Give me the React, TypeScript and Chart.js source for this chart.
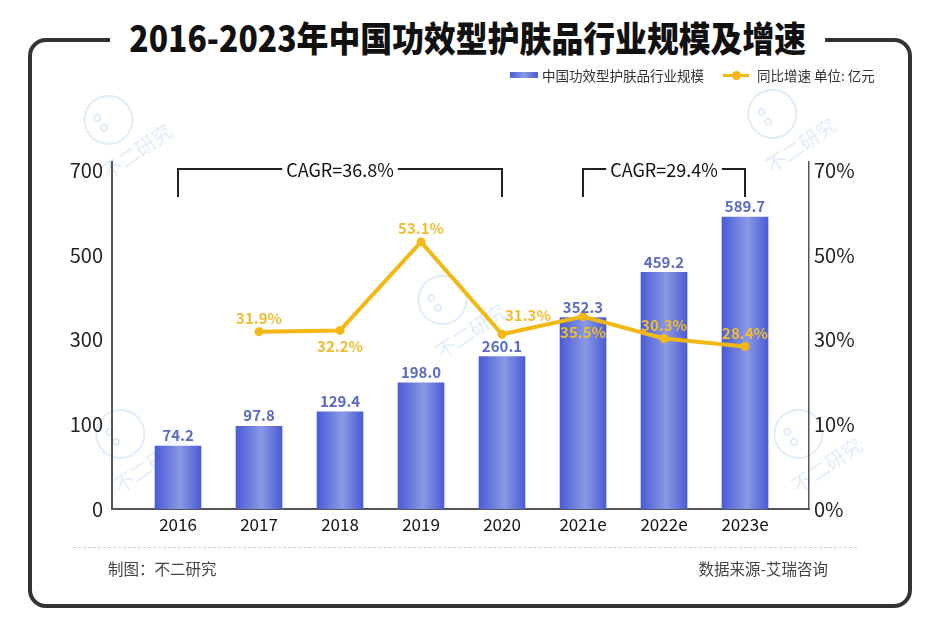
import React, { useEffect, useRef } from 'react';
import { Chart, registerables, LinearScale } from 'chart.js';

const categories = ['2016', '2017', '2018', '2019', '2020', '2021e', '2022e', '2023e'];
const marketSize = [74.2, 97.8, 129.4, 198.0, 260.1, 352.3, 459.2, 589.7];
const growthRate: (number | null)[] = [null, 31.9, 32.2, 53.1, 31.3, 35.5, 30.3, 28.4];
const growthLabelSide = ['top', 'top', 'bottom', 'top', 'topRight', 'bottom', 'top', 'top'];
const leftTicks = [0, 100, 300, 500, 700];
const rightTicks = [0, 10, 30, 50, 70];
const cagrSpans = [
  { from: 0, to: 4, label: 'CAGR=36.8%' },
  { from: 5, to: 7, label: 'CAGR=29.4%' },
];
const watermarkSpots = [
  [128, 138],
  [792, 132],
  [140, 452],
  [462, 318],
  [818, 452],
];

const FONT = "'Noto Sans CJK SC', 'Noto Sans', sans-serif";
const BREAKS: Record<string, number[]> = { y: leftTicks, y1: rightTicks };

class PiecewiseScale extends LinearScale {
  static id = 'piecewise';
  static defaults = { ...(LinearScale as any).defaults };
  bp(): number[] {
    return BREAKS[(this as any).id] || [0, 1];
  }
  toUnit(v: number) {
    const bp = this.bp();
    const n = bp.length;
    if (v <= bp[0]) return (v - bp[0]) / (bp[1] - bp[0]);
    for (let i = 1; i < n; i++) {
      if (v <= bp[i]) return i - 1 + (v - bp[i - 1]) / (bp[i] - bp[i - 1]);
    }
    return n - 1 + (v - bp[n - 1]) / (bp[n - 1] - bp[n - 2]);
  }
  fromUnit(u: number) {
    const bp = this.bp();
    const n = bp.length;
    if (u <= 0) return bp[0] + u * (bp[1] - bp[0]);
    if (u >= n - 1) return bp[n - 1] + (u - (n - 1)) * (bp[n - 1] - bp[n - 2]);
    const i = Math.floor(u);
    return bp[i] + (u - i) * (bp[i + 1] - bp[i]);
  }
  buildTicks() {
    return this.bp().map((v) => ({ value: v }));
  }
  getPixelForValue(value: number) {
    if (value === null || value === undefined || isNaN(value)) return NaN;
    const s = this as any;
    const u0 = this.toUnit(s.min);
    const u1 = this.toUnit(s.max);
    return s.getPixelForDecimal((this.toUnit(value) - u0) / (u1 - u0));
  }
  getValueForPixel(pixel: number) {
    const s = this as any;
    const u0 = this.toUnit(s.min);
    const u1 = this.toUnit(s.max);
    return this.fromUnit(u0 + s.getDecimalForPixel(pixel) * (u1 - u0));
  }
}

Chart.register(...registerables);
Chart.register(PiecewiseScale as any);

const watermarkPlugin = {
  id: 'watermark',
  beforeDraw(chart: any) {
    const c = chart.ctx;
    c.save();
    watermarkSpots.forEach(([x, y]) => {
      c.save();
      c.translate(x, y);
      c.rotate(-0.6);
      c.strokeStyle = 'rgba(130,185,230,0.26)';
      c.lineWidth = 2;
      c.beginPath();
      c.arc(-6, -26, 24, 0, Math.PI * 2);
      c.stroke();
      c.beginPath();
      c.arc(-14, -34, 3, 0, Math.PI * 2);
      c.stroke();
      c.beginPath();
      c.arc(-14, -22, 3, 0, Math.PI * 2);
      c.stroke();
      c.fillStyle = 'rgba(130,185,230,0.26)';
      c.font = `20px ${FONT}`;
      c.textAlign = 'center';
      c.textBaseline = 'middle';
      c.fillText('不二研究', 0, 16);
      c.restore();
    });
    c.restore();
  },
};

const labelsPlugin = {
  id: 'valueLabels',
  afterDatasetsDraw(chart: any) {
    const c = chart.ctx;
    c.save();
    c.textAlign = 'center';
    const barMeta = chart.getDatasetMeta(0);
    c.font = `bold 15px ${FONT}`;
    c.fillStyle = '#5a6bc2';
    c.textBaseline = 'bottom';
    barMeta.data.forEach((el: any, i: number) => {
      c.fillText(marketSize[i].toFixed(1), el.x, el.y - 3);
    });
    const lineMeta = chart.getDatasetMeta(1);
    c.fillStyle = '#f0bd2e';
    lineMeta.data.forEach((el: any, i: number) => {
      const v = growthRate[i];
      if (v === null || el.skip) return;
      const txt = v.toFixed(1) + '%';
      const side = growthLabelSide[i];
      if (side === 'top') {
        c.textAlign = 'center';
        c.textBaseline = 'bottom';
        c.fillText(txt, el.x, el.y - 6);
      } else if (side === 'topRight') {
        c.textAlign = 'left';
        c.textBaseline = 'bottom';
        c.fillText(txt, el.x + 3, el.y - 11);
      } else {
        c.textAlign = 'center';
        c.textBaseline = 'top';
        c.fillText(txt, el.x, el.y + 8);
      }
    });
    c.restore();
  },
};

const cagrPlugin = {
  id: 'cagr',
  afterDraw(chart: any) {
    const c = chart.ctx;
    const xs = chart.scales.x;
    const top = chart.chartArea.top;
    const yH = top + 7;
    const yV = top + 35;
    c.save();
    c.strokeStyle = '#222';
    c.lineWidth = 2;
    c.font = `18px ${FONT}`;
    c.fillStyle = '#111';
    c.textAlign = 'center';
    c.textBaseline = 'middle';
    cagrSpans.forEach((s) => {
      const x0 = xs.getPixelForValue(s.from);
      const x1 = xs.getPixelForValue(s.to);
      const mid = (x0 + x1) / 2;
      const w = c.measureText(s.label).width;
      c.beginPath();
      c.moveTo(x0, yV);
      c.lineTo(x0, yH);
      c.lineTo(mid - w / 2 - 4, yH);
      c.moveTo(mid + w / 2 + 4, yH);
      c.lineTo(x1, yH);
      c.lineTo(x1, yV);
      c.stroke();
      c.fillText(s.label, mid, yH + 1);
    });
    c.restore();
  },
};

export default function App() {
  const ref = useRef<HTMLCanvasElement>(null);

  useEffect(() => {
    if (!ref.current) return;
    Chart.defaults.font.family = FONT;
    const barColor = (ctx: any) => {
      const chart = ctx.chart;
      const xs = chart.scales && chart.scales.x;
      if (!xs || ctx.dataIndex === undefined || !isFinite(xs.getPixelForValue(ctx.dataIndex))) return '#5a6cd8';
      const cx = xs.getPixelForValue(ctx.dataIndex);
      const g = chart.ctx.createLinearGradient(cx - 23, 0, cx + 23, 0);
      g.addColorStop(0, '#4a5cd6');
      g.addColorStop(0.55, '#8a98e4');
      g.addColorStop(1, '#4a5cd6');
      return g;
    };
    const chart = new Chart(ref.current, {
      type: 'bar',
      data: {
        datasets: [
          {
            type: 'bar',
            label: '中国功效型护肤品行业规模',
            data: marketSize.map((v, i) => ({ x: i, y: v })),
            backgroundColor: barColor,
            barThickness: 46,
            yAxisID: 'y',
            order: 2,
          },
          {
            type: 'line',
            label: '同比增速',
            data: growthRate.map((v, i) => ({ x: i, y: v })),
            borderColor: '#f3b814',
            backgroundColor: '#f3b814',
            borderWidth: 4,
            pointRadius: 4.5,
            pointBackgroundColor: '#f3b814',
            pointBorderWidth: 0,
            tension: 0,
            yAxisID: 'y1',
            order: 1,
          },
        ] as any,
      },
      options: {
        responsive: false,
        animation: false,
        layout: { padding: { left: 50, right: 71, top: 162, bottom: 105 } },
        plugins: { legend: { display: false }, tooltip: { enabled: false } },
        scales: {
          x: {
            type: 'linear',
            offset: false,
            min: -0.815,
            max: 7.79,
            grid: { display: false, drawTicks: false, offset: false },
            border: { display: true, color: '#555', width: 2 },
            afterBuildTicks: (scale: any) => {
              scale.ticks = categories.map((_, i) => ({ value: i }));
            },
            afterFit: (scale: any) => {
              scale.height = 30;
            },
            ticks: {
              autoSkip: false,
              maxRotation: 0,
              padding: 5,
              color: '#111',
              font: { size: 17 },
              callback: (v: any) => categories[Math.round(Number(v))] ?? '',
            },
          },
          y: {
            type: 'piecewise' as any,
            position: 'left',
            min: 0,
            max: 720,
            grid: { display: false, drawTicks: false },
            border: { display: true, color: '#555', width: 2 },
            afterFit: (scale: any) => {
              scale.width = 62;
            },
            ticks: {
              padding: 9,
              color: '#222',
              font: { size: 20 },
              callback: (v: any) => String(v),
            },
          },
          y1: {
            type: 'piecewise' as any,
            position: 'right',
            min: 0,
            max: 72,
            grid: { display: false, drawTicks: false },
            border: { display: true, color: '#555', width: 1.5 },
            afterFit: (scale: any) => {
              scale.width = 60;
            },
            ticks: {
              padding: 5,
              color: '#222',
              font: { size: 20 },
              callback: (v: any) => v + '%',
            },
          },
        } as any,
      },
      plugins: [watermarkPlugin, labelsPlugin, cagrPlugin],
    });
    return () => chart.destroy();
  }, []);

  const text = { position: 'absolute' as const, fontFamily: FONT, whiteSpace: 'nowrap' as const };

  return (
    <div style={{ position: 'fixed', left: 0, top: 0, width: 940, height: 644, background: '#fff', overflow: 'hidden' }}>
      <div
        style={{
          position: 'absolute',
          left: 28,
          top: 38,
          width: 884,
          height: 570,
          boxSizing: 'border-box',
          border: '4px solid #333',
          borderRadius: 18,
        }}
      />
      <canvas ref={ref} width={940} height={644} style={{ position: 'absolute', left: 0, top: 0, width: 940, height: 644 }} />
      <div style={{ position: 'absolute', left: 0, top: 13, width: 936, textAlign: 'center' }}>
        <span
          style={{
            display: 'inline-block',
            fontFamily: FONT,
            fontWeight: 900,
            fontSize: 33,
            lineHeight: '48px',
            color: '#111',
            background: '#fff',
            padding: '0 20px',
            whiteSpace: 'nowrap',
            transform: 'scale(0.965, 1.08)',
          }}
        >
          2016-2023年中国功效型护肤品行业规模及增速
        </span>
      </div>
      <div
        style={{
          position: 'absolute',
          left: 510,
          top: 72,
          width: 28,
          height: 6,
          background: 'linear-gradient(90deg, #4a5cd6, #8a98e4, #4a5cd6)',
        }}
      />
      <div style={{ ...text, left: 542, top: 65, fontSize: 13.5, lineHeight: '20px', color: '#333' }}>中国功效型护肤品行业规模</div>
      <div style={{ position: 'absolute', left: 723, top: 74, width: 26, height: 3, background: '#f3b814' }} />
      <div style={{ position: 'absolute', left: 732, top: 71, width: 9, height: 9, borderRadius: 5, background: '#f3b814' }} />
      <div style={{ ...text, left: 757, top: 65, fontSize: 13.5, lineHeight: '20px', color: '#333' }}>同比增速 单位: 亿元</div>
      <div style={{ position: 'absolute', left: 73, top: 547, width: 784, borderTop: '1px dashed #cfcfcf' }} />
      <div style={{ ...text, left: 108, top: 557, fontSize: 15.5, lineHeight: '22px', color: '#444' }}>制图：不二研究</div>
      <div style={{ ...text, right: 112, top: 557, fontSize: 15.5, lineHeight: '22px', color: '#444' }}>数据来源-艾瑞咨询</div>
    </div>
  );
}
